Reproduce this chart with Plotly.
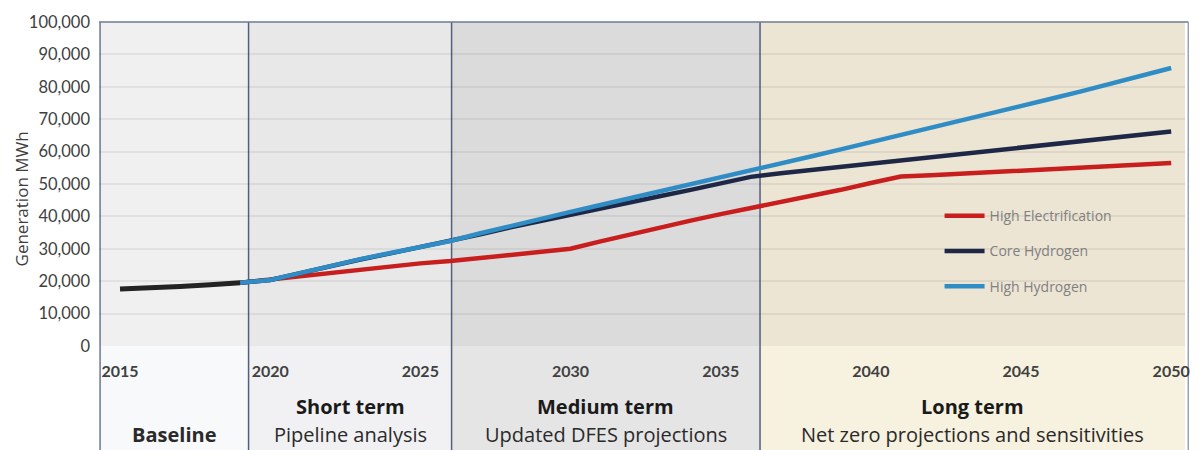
import plotly.graph_objects as go

# ---- data -------------------------------------------------------------
baseline_years = [2015, 2016, 2017, 2018, 2019]
baseline_mwh = [17600, 17900, 18400, 18900, 19500]

scenario_years = list(range(2019, 2051))

high_electrification = [
    19500, 20500, 21700, 22800, 23800, 24800, 25500, 26200, 27200, 28200,
    29000, 30000, 32300, 34500, 36500, 38700, 40700, 42500, 44300, 46200,
    48200, 50300, 52300, 52700, 53200, 53600, 54000, 54400, 54900, 55400,
    55900, 56500,
]
core_hydrogen = [
    19500, 20400, 22500, 24700, 26700, 28600, 30500, 32300, 34500, 36600,
    38600, 40500, 42500, 44400, 46300, 48200, 50200, 52200, 53300, 54300,
    55300, 56200, 57200, 58200, 59100, 60100, 61100, 62200, 63200, 64200,
    65200, 66200,
]
high_hydrogen = [
    19500, 20400, 22500, 24800, 26800, 28700, 30700, 32400, 34800, 37100,
    39300, 41400, 43500, 45600, 47700, 49800, 51900, 54100, 56300, 58500,
    60700, 62900, 65000, 67300, 69600, 71900, 74100, 76300, 78600, 80900,
    83300, 85800,
]

y_ticks = [0, 10000, 20000, 30000, 40000, 50000, 60000, 70000, 80000, 90000, 100000]
x_ticks = [2015, 2020, 2025, 2030, 2035, 2040, 2045, 2050]

# planning horizons: boundaries (years) and their captions
period_edges = [2014.30, 2019.28, 2026.04, 2036.31, 2050.46]
period_titles = ["", "Short term", "Medium term", "Long term"]
period_subtitles = ["Baseline", "Pipeline analysis", "Updated DFES projections",
                    "Net zero projections and sensitivities"]
period_fill_plot = ["#f0f0f0", "#e8e8e8", "#dbdbdb", "#ece5d4"]
period_fill_below = ["#f8f9fb", "#f1f1f3", "#e5e5e6", "#f7f1df"]

TICK_FONT = "Lato"
TEXT_FONT = "Open Sans"

fig = go.Figure()

fig.add_trace(go.Scatter(
    x=baseline_years, y=baseline_mwh, mode="lines",
    line=dict(color="#232323", width=5), showlegend=False, hoverinfo="skip",
))
fig.add_trace(go.Scatter(
    x=scenario_years, y=high_electrification, mode="lines", name="High Electrification",
    legendgroup="he", line=dict(color="#c81e1e", width=4.5),
))
fig.add_trace(go.Scatter(
    x=scenario_years, y=core_hydrogen, mode="lines", name="Core Hydrogen",
    legendgroup="ch", line=dict(color="#1e2846", width=4.5),
))
fig.add_trace(go.Scatter(
    x=scenario_years, y=high_hydrogen, mode="lines", name="High Hydrogen",
    legendgroup="hh", line=dict(color="#2f8cc4", width=4.5),
))

shapes = []
# period backgrounds: inside the plotting area and below it
for i in range(4):
    x0, x1 = period_edges[i], period_edges[i + 1]
    shapes.append(dict(type="rect", xref="x", yref="paper", x0=x0, x1=x1, y0=0, y1=1,
                       fillcolor=period_fill_plot[i], line=dict(width=0), layer="below"))
    shapes.append(dict(type="rect", xref="x", yref="paper", x0=x0, x1=x1, y0=-0.4, y1=0,
                       fillcolor=period_fill_below[i], line=dict(width=0), layer="below"))
# period separators
for e in period_edges[1:-1]:
    shapes.append(dict(type="line", xref="x", yref="paper", x0=e, x1=e, y0=-0.4, y1=1,
                       line=dict(color="#52607c", width=1.5), layer="below"))
# outer frame (left, right, top)
shapes.append(dict(type="line", xref="paper", yref="paper", x0=0.001, x1=0.001, y0=-0.4, y1=1,
                   line=dict(color="#6d7b96", width=1.5), layer="below"))
shapes.append(dict(type="line", xref="paper", yref="paper", x0=1.003, x1=1.003, y0=-0.4, y1=1,
                   line=dict(color="#9aa3b5", width=1.5), layer="below"))
shapes.append(dict(type="line", xref="paper", yref="paper", x0=0, x1=1.003, y0=1, y1=1,
                   line=dict(color="#6d7b96", width=1.5), layer="below"))

annotations = []
for i in range(4):
    xm = (period_edges[i] + period_edges[i + 1]) / 2
    if period_titles[i]:
        annotations.append(dict(x=xm, y=-0.188, xref="x", yref="paper", text=period_titles[i],
                                showarrow=False, yanchor="middle", xanchor="center",
                                font=dict(family=TEXT_FONT, size=20, color="#1a1a1a",
                                          weight="bold")))
    annotations.append(dict(x=xm, y=-0.273, xref="x", yref="paper", text=period_subtitles[i],
                            showarrow=False, yanchor="middle", xanchor="center",
                            font=dict(family=TEXT_FONT, size=20, color="#2a2a2a",
                                      weight="bold" if i == 0 else "normal")))
annotations.append(dict(x=-0.071, y=0.455, xref="paper", yref="paper", text="Generation MWh",
                        textangle=-90, showarrow=False, xanchor="center", yanchor="middle",
                        font=dict(family=TEXT_FONT, size=17, color="#404040")))

fig.update_layout(
    width=1202, height=450,
    margin=dict(l=99, r=12, t=16, b=104),
    paper_bgcolor="white", plot_bgcolor="rgba(0,0,0,0)",
    shapes=shapes, annotations=annotations,
    xaxis=dict(range=[period_edges[0], period_edges[-1]], tickvals=x_ticks,
               ticktext=[str(t) for t in x_ticks], showgrid=False, zeroline=False,
               showline=False, ticks="", ticklabelstandoff=14,
               tickfont=dict(family=TICK_FONT, size=16, color="#404040", weight="bold")),
    yaxis=dict(range=[0, 100000], tickvals=y_ticks,
               ticktext=[f"{v:,}" for v in y_ticks], showgrid=True,
               gridcolor="rgba(0,0,0,0.06)", gridwidth=1.5, zeroline=False, showline=False,
               ticks="", ticklabelstandoff=8,
               tickfont=dict(family=TICK_FONT, size=16.5, color="#404040")),
    legend=dict(x=0.774, y=0.45, xanchor="left", yanchor="top", bgcolor="rgba(0,0,0,0)",
                tracegroupgap=14, font=dict(family=TEXT_FONT, size=14, color="#808080"),
                itemwidth=40),
    showlegend=True,
)

fig.write_html("out.html")
